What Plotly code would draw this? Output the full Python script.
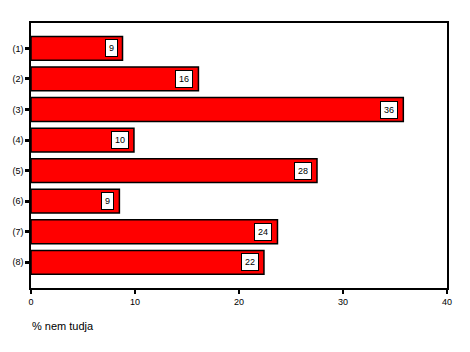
import plotly.graph_objects as go

categories = ["(1)", "(2)", "(3)", "(4)", "(5)", "(6)", "(7)", "(8)"]
values = [8.8, 16.1, 35.8, 9.9, 27.5, 8.5, 23.7, 22.4]
labels = ["9", "16", "36", "10", "28", "9", "24", "22"]
x_ticks = [0, 10, 20, 30, 40]

pos = list(range(len(categories)))

fig = go.Figure()
fig.add_trace(go.Bar(
    x=values, y=pos, orientation="h",
    marker=dict(color="#ff0000", line=dict(color="black", width=1.5)),
    width=0.78, hoverinfo="skip", showlegend=False,
))

for p, v, t in zip(pos, values, labels):
    fig.add_annotation(
        x=v, y=p, xref="x", yref="y", text=t, showarrow=False,
        xanchor="right", xshift=-5,
        bgcolor="white", bordercolor="black", borderwidth=1, borderpad=3,
        font=dict(family="Liberation Sans, Arial", size=9, color="black"),
    )

fig.add_annotation(
    x=-0.002, y=-0.143, xref="paper", yref="paper",
    text="% nem tudja", showarrow=False, xanchor="left", yanchor="middle",
    font=dict(family="Liberation Sans, Arial", size=11, color="black"),
)

fig.update_layout(
    width=470, height=352,
    margin=dict(l=29, r=23, t=23, b=64),
    paper_bgcolor="white", plot_bgcolor="white",
    font=dict(family="Liberation Sans, Arial", size=9, color="black"),
    bargap=0.2,
)
fig.update_xaxes(
    range=[0, 40], tickvals=x_ticks, ticks="outside", ticklen=4, tickwidth=1.5,
    tickcolor="black", showgrid=False, zeroline=False,
    showline=True, linecolor="black", linewidth=1.5, mirror=True,
)
fig.update_yaxes(
    range=[7.84, -0.83], tickvals=pos, ticktext=categories,
    ticks="outside", ticklen=4, tickwidth=3, tickcolor="black",
    showgrid=False, zeroline=False,
    showline=True, linecolor="black", linewidth=1.5, mirror=True,
)

fig.write_html("out.html")
